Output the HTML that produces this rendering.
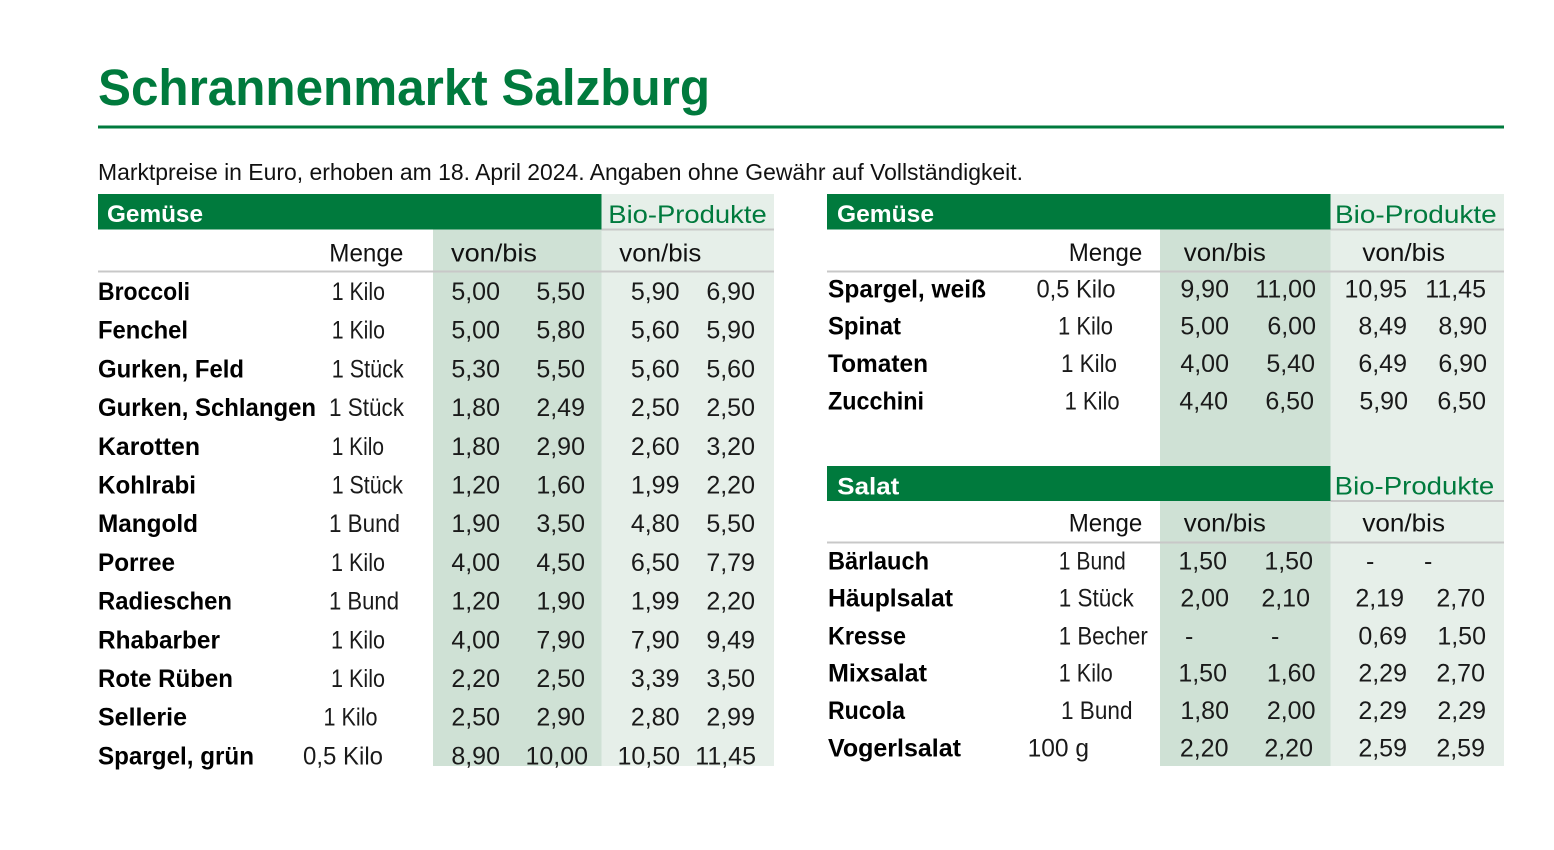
<!DOCTYPE html>
<html><head><meta charset="utf-8"><style>
html,body{margin:0;padding:0;background:#fff;}
svg{display:block;}
text{font-family:"Liberation Sans",sans-serif;}
.n{font-size:25px;fill:#1a1a1a;text-anchor:end;}
.nm{font-size:25px;font-weight:bold;fill:#000;}
.m{font-size:25px;fill:#1a1a1a;}
.h{font-size:25px;fill:#111;}
.bio{font-size:25px;fill:#007a3d;}
.bh{font-size:24px;font-weight:bold;fill:#fff;}
</style></head><body>
<svg width="1554" height="850" viewBox="0 0 1554 850" xmlns="http://www.w3.org/2000/svg">
<rect width="1554" height="850" fill="#fff"/>
<!-- Title -->
<text x="98" y="105" font-size="51" font-weight="bold" fill="#007a3d" textLength="612" lengthAdjust="spacingAndGlyphs">Schrannenmarkt Salzburg</text>
<rect x="98" y="125.5" width="1406" height="3" fill="#007a3d"/>
<text x="98" y="180" font-size="23" fill="#111" textLength="925" lengthAdjust="spacingAndGlyphs">Marktpreise in Euro, erhoben am 18. April 2024. Angaben ohne Gewähr auf Vollständigkeit.</text>

<!-- LEFT TABLE backgrounds -->
<rect x="601.5" y="194" width="172.5" height="572" fill="#e6efe9"/>
<rect x="433" y="229.5" width="168.5" height="536.5" fill="#cfe1d5"/>
<rect x="98" y="194" width="503.5" height="35.5" fill="#007a3d"/>
<rect x="601.5" y="228.5" width="172.5" height="2" fill="#c8c8c8"/>
<rect x="98" y="270.5" width="676" height="2" fill="#c8c8c8"/>
<text class="bh" x="107" y="222" textLength="96" lengthAdjust="spacingAndGlyphs">Gemüse</text>
<text class="bio" x="608.3" y="223" textLength="158.4" lengthAdjust="spacingAndGlyphs">Bio-Produkte</text>
<text class="h" x="329.3" y="261.5" textLength="74" lengthAdjust="spacingAndGlyphs">Menge</text>
<text class="h" x="451" y="261.5" textLength="86" lengthAdjust="spacingAndGlyphs">von/bis</text>
<text class="h" x="619.3" y="261.5" textLength="82" lengthAdjust="spacingAndGlyphs">von/bis</text>

<!-- left rows -->
<g>
<text class="nm" x="98" y="300" textLength="92" lengthAdjust="spacingAndGlyphs">Broccoli</text>
<text class="m" x="331.7" y="300" textLength="53.3" lengthAdjust="spacingAndGlyphs">1 Kilo</text>
<text class="n" x="500" y="300">5,00</text><text class="n" x="585" y="300">5,50</text><text class="n" x="679.5" y="300">5,90</text><text class="n" x="755" y="300">6,90</text>

<text class="nm" x="98" y="338.7" textLength="90" lengthAdjust="spacingAndGlyphs">Fenchel</text>
<text class="m" x="331.7" y="338.7" textLength="53.3" lengthAdjust="spacingAndGlyphs">1 Kilo</text>
<text class="n" x="500" y="338.7">5,00</text><text class="n" x="585" y="338.7">5,80</text><text class="n" x="679.5" y="338.7">5,60</text><text class="n" x="755" y="338.7">5,90</text>

<text class="nm" x="98" y="377.4" textLength="146" lengthAdjust="spacingAndGlyphs">Gurken, Feld</text>
<text class="m" x="331.7" y="377.4" textLength="72" lengthAdjust="spacingAndGlyphs">1 Stück</text>
<text class="n" x="500" y="377.4">5,30</text><text class="n" x="585" y="377.4">5,50</text><text class="n" x="679.5" y="377.4">5,60</text><text class="n" x="755" y="377.4">5,60</text>

<text class="nm" x="98" y="416.1" textLength="218" lengthAdjust="spacingAndGlyphs">Gurken, Schlangen</text>
<text class="m" x="329" y="416.1" textLength="75" lengthAdjust="spacingAndGlyphs">1 Stück</text>
<text class="n" x="500" y="416.1">1,80</text><text class="n" x="585" y="416.1">2,49</text><text class="n" x="679.5" y="416.1">2,50</text><text class="n" x="755" y="416.1">2,50</text>

<text class="nm" x="98" y="454.8" textLength="102" lengthAdjust="spacingAndGlyphs">Karotten</text>
<text class="m" x="331.7" y="454.8" textLength="52.3" lengthAdjust="spacingAndGlyphs">1 Kilo</text>
<text class="n" x="500" y="454.8">1,80</text><text class="n" x="585" y="454.8">2,90</text><text class="n" x="679.5" y="454.8">2,60</text><text class="n" x="755" y="454.8">3,20</text>

<text class="nm" x="98" y="493.5" textLength="98" lengthAdjust="spacingAndGlyphs">Kohlrabi</text>
<text class="m" x="331.7" y="493.5" textLength="71.3" lengthAdjust="spacingAndGlyphs">1 Stück</text>
<text class="n" x="500" y="493.5">1,20</text><text class="n" x="585" y="493.5">1,60</text><text class="n" x="679.5" y="493.5">1,99</text><text class="n" x="755" y="493.5">2,20</text>

<text class="nm" x="98" y="532.2" textLength="100" lengthAdjust="spacingAndGlyphs">Mangold</text>
<text class="m" x="329" y="532.2" textLength="71" lengthAdjust="spacingAndGlyphs">1 Bund</text>
<text class="n" x="500" y="532.2">1,90</text><text class="n" x="585" y="532.2">3,50</text><text class="n" x="679.5" y="532.2">4,80</text><text class="n" x="755" y="532.2">5,50</text>

<text class="nm" x="98" y="570.9" textLength="77" lengthAdjust="spacingAndGlyphs">Porree</text>
<text class="m" x="331" y="570.9" textLength="54" lengthAdjust="spacingAndGlyphs">1 Kilo</text>
<text class="n" x="500" y="570.9">4,00</text><text class="n" x="585" y="570.9">4,50</text><text class="n" x="679.5" y="570.9">6,50</text><text class="n" x="755" y="570.9">7,79</text>

<text class="nm" x="98" y="609.6" textLength="134" lengthAdjust="spacingAndGlyphs">Radieschen</text>
<text class="m" x="329" y="609.6" textLength="70" lengthAdjust="spacingAndGlyphs">1 Bund</text>
<text class="n" x="500" y="609.6">1,20</text><text class="n" x="585" y="609.6">1,90</text><text class="n" x="679.5" y="609.6">1,99</text><text class="n" x="755" y="609.6">2,20</text>

<text class="nm" x="98" y="648.3" textLength="122" lengthAdjust="spacingAndGlyphs">Rhabarber</text>
<text class="m" x="331" y="648.3" textLength="54" lengthAdjust="spacingAndGlyphs">1 Kilo</text>
<text class="n" x="500" y="648.3">4,00</text><text class="n" x="585" y="648.3">7,90</text><text class="n" x="679.5" y="648.3">7,90</text><text class="n" x="755" y="648.3">9,49</text>

<text class="nm" x="98" y="687" textLength="135" lengthAdjust="spacingAndGlyphs">Rote Rüben</text>
<text class="m" x="331" y="687" textLength="54" lengthAdjust="spacingAndGlyphs">1 Kilo</text>
<text class="n" x="500" y="687">2,20</text><text class="n" x="585" y="687">2,50</text><text class="n" x="679.5" y="687">3,39</text><text class="n" x="755" y="687">3,50</text>

<text class="nm" x="98" y="725.7" textLength="89" lengthAdjust="spacingAndGlyphs">Sellerie</text>
<text class="m" x="323.5" y="725.7" textLength="54" lengthAdjust="spacingAndGlyphs">1 Kilo</text>
<text class="n" x="500" y="725.7">2,50</text><text class="n" x="585" y="725.7">2,90</text><text class="n" x="679.5" y="725.7">2,80</text><text class="n" x="755" y="725.7">2,99</text>

<text class="nm" x="98" y="764.4" textLength="156" lengthAdjust="spacingAndGlyphs">Spargel, grün</text>
<text class="m" x="303" y="764.4" textLength="80" lengthAdjust="spacingAndGlyphs">0,5 Kilo</text>
<text class="n" x="500" y="764.4">8,90</text><text class="n" x="588" y="764.4">10,00</text><text class="n" x="680" y="764.4">10,50</text><text class="n" x="756" y="764.4">11,45</text>
</g>

<!-- RIGHT TABLE backgrounds -->
<rect x="1330.5" y="194" width="173.5" height="572" fill="#e6efe9"/>
<rect x="1160" y="229.5" width="170.5" height="536.5" fill="#cfe1d5"/>
<rect x="827" y="194" width="503.5" height="35.5" fill="#007a3d"/>
<rect x="1330.5" y="228.5" width="173.5" height="2" fill="#c8c8c8"/>
<rect x="827" y="270.5" width="677" height="2" fill="#c8c8c8"/>
<rect x="827" y="466" width="503.5" height="35" fill="#007a3d"/>
<rect x="1330.5" y="500" width="173.5" height="2" fill="#c8c8c8"/>
<rect x="827" y="541.5" width="677" height="2" fill="#c8c8c8"/>

<text class="bh" x="837" y="222" textLength="97" lengthAdjust="spacingAndGlyphs">Gemüse</text>
<text class="bio" x="1335" y="223" textLength="161.7" lengthAdjust="spacingAndGlyphs">Bio-Produkte</text>
<text class="h" x="1068.7" y="261" textLength="73.6" lengthAdjust="spacingAndGlyphs">Menge</text>
<text class="h" x="1183.8" y="261" textLength="82" lengthAdjust="spacingAndGlyphs">von/bis</text>
<text class="h" x="1362.4" y="261" textLength="82.6" lengthAdjust="spacingAndGlyphs">von/bis</text>

<text class="nm" x="828" y="297.3" textLength="158" lengthAdjust="spacingAndGlyphs">Spargel, weiß</text>
<text class="m" x="1036.5" y="297.3" textLength="79" lengthAdjust="spacingAndGlyphs">0,5 Kilo</text>
<text class="n" x="1229" y="297.3">9,90</text><text class="n" x="1316" y="297.3">11,00</text><text class="n" x="1407" y="297.3">10,95</text><text class="n" x="1486" y="297.3">11,45</text>

<text class="nm" x="828" y="334.6" textLength="73" lengthAdjust="spacingAndGlyphs">Spinat</text>
<text class="m" x="1058" y="334.6" textLength="55" lengthAdjust="spacingAndGlyphs">1 Kilo</text>
<text class="n" x="1229" y="334.6">5,00</text><text class="n" x="1316" y="334.6">6,00</text><text class="n" x="1407" y="334.6">8,49</text><text class="n" x="1487" y="334.6">8,90</text>

<text class="nm" x="828" y="372" textLength="100" lengthAdjust="spacingAndGlyphs">Tomaten</text>
<text class="m" x="1061" y="372" textLength="56" lengthAdjust="spacingAndGlyphs">1 Kilo</text>
<text class="n" x="1229" y="372">4,00</text><text class="n" x="1315" y="372">5,40</text><text class="n" x="1407" y="372">6,49</text><text class="n" x="1487" y="372">6,90</text>

<text class="nm" x="828" y="409.3" textLength="96" lengthAdjust="spacingAndGlyphs">Zucchini</text>
<text class="m" x="1064.6" y="409.3" textLength="55" lengthAdjust="spacingAndGlyphs">1 Kilo</text>
<text class="n" x="1228" y="409.3">4,40</text><text class="n" x="1314" y="409.3">6,50</text><text class="n" x="1408" y="409.3">5,90</text><text class="n" x="1486" y="409.3">6,50</text>

<!-- Salat -->
<text class="bh" x="837.3" y="494.3" textLength="62" lengthAdjust="spacingAndGlyphs">Salat</text>
<text class="bio" x="1334.7" y="494.3" textLength="159.5" lengthAdjust="spacingAndGlyphs">Bio-Produkte</text>
<text class="h" x="1068.7" y="531.5" textLength="73.6" lengthAdjust="spacingAndGlyphs">Menge</text>
<text class="h" x="1183.8" y="531.5" textLength="82" lengthAdjust="spacingAndGlyphs">von/bis</text>
<text class="h" x="1362.4" y="531.5" textLength="82.6" lengthAdjust="spacingAndGlyphs">von/bis</text>

<text class="nm" x="828" y="569.3" textLength="101" lengthAdjust="spacingAndGlyphs">Bärlauch</text>
<text class="m" x="1058.8" y="569.3" textLength="67" lengthAdjust="spacingAndGlyphs">1 Bund</text>
<text class="n" x="1227" y="569.3">1,50</text><text class="n" x="1313" y="569.3">1,50</text>
<text class="m" x="1366" y="569.3">-</text><text class="m" x="1424" y="569.3">-</text>

<text class="nm" x="828" y="606.7" textLength="125" lengthAdjust="spacingAndGlyphs">Häuplsalat</text>
<text class="m" x="1058.8" y="606.7" textLength="75" lengthAdjust="spacingAndGlyphs">1 Stück</text>
<text class="n" x="1229" y="606.7">2,00</text><text class="n" x="1310" y="606.7">2,10</text><text class="n" x="1404" y="606.7">2,19</text><text class="n" x="1485" y="606.7">2,70</text>

<text class="nm" x="828" y="644.3" textLength="78" lengthAdjust="spacingAndGlyphs">Kresse</text>
<text class="m" x="1058.8" y="644.3" textLength="89" lengthAdjust="spacingAndGlyphs">1 Becher</text>
<text class="m" x="1185" y="644.3">-</text><text class="m" x="1271" y="644.3">-</text>
<text class="n" x="1407" y="644.3">0,69</text><text class="n" x="1486" y="644.3">1,50</text>

<text class="nm" x="828" y="681.7" textLength="99" lengthAdjust="spacingAndGlyphs">Mixsalat</text>
<text class="m" x="1058.8" y="681.7" textLength="54" lengthAdjust="spacingAndGlyphs">1 Kilo</text>
<text class="n" x="1227" y="681.7">1,50</text><text class="n" x="1315.5" y="681.7">1,60</text><text class="n" x="1407" y="681.7">2,29</text><text class="n" x="1485" y="681.7">2,70</text>

<text class="nm" x="828" y="719" textLength="77" lengthAdjust="spacingAndGlyphs">Rucola</text>
<text class="m" x="1061" y="719" textLength="71.5" lengthAdjust="spacingAndGlyphs">1 Bund</text>
<text class="n" x="1229" y="719">1,80</text><text class="n" x="1315.5" y="719">2,00</text><text class="n" x="1407" y="719">2,29</text><text class="n" x="1486" y="719">2,29</text>

<text class="nm" x="828" y="756.7" textLength="133" lengthAdjust="spacingAndGlyphs">Vogerlsalat</text>
<text class="m" x="1027.6" y="756.7" textLength="61.4" lengthAdjust="spacingAndGlyphs">100 g</text>
<text class="n" x="1228.5" y="756.7">2,20</text><text class="n" x="1313" y="756.7">2,20</text><text class="n" x="1407" y="756.7">2,59</text><text class="n" x="1485" y="756.7">2,59</text>
</svg>
</body></html>
